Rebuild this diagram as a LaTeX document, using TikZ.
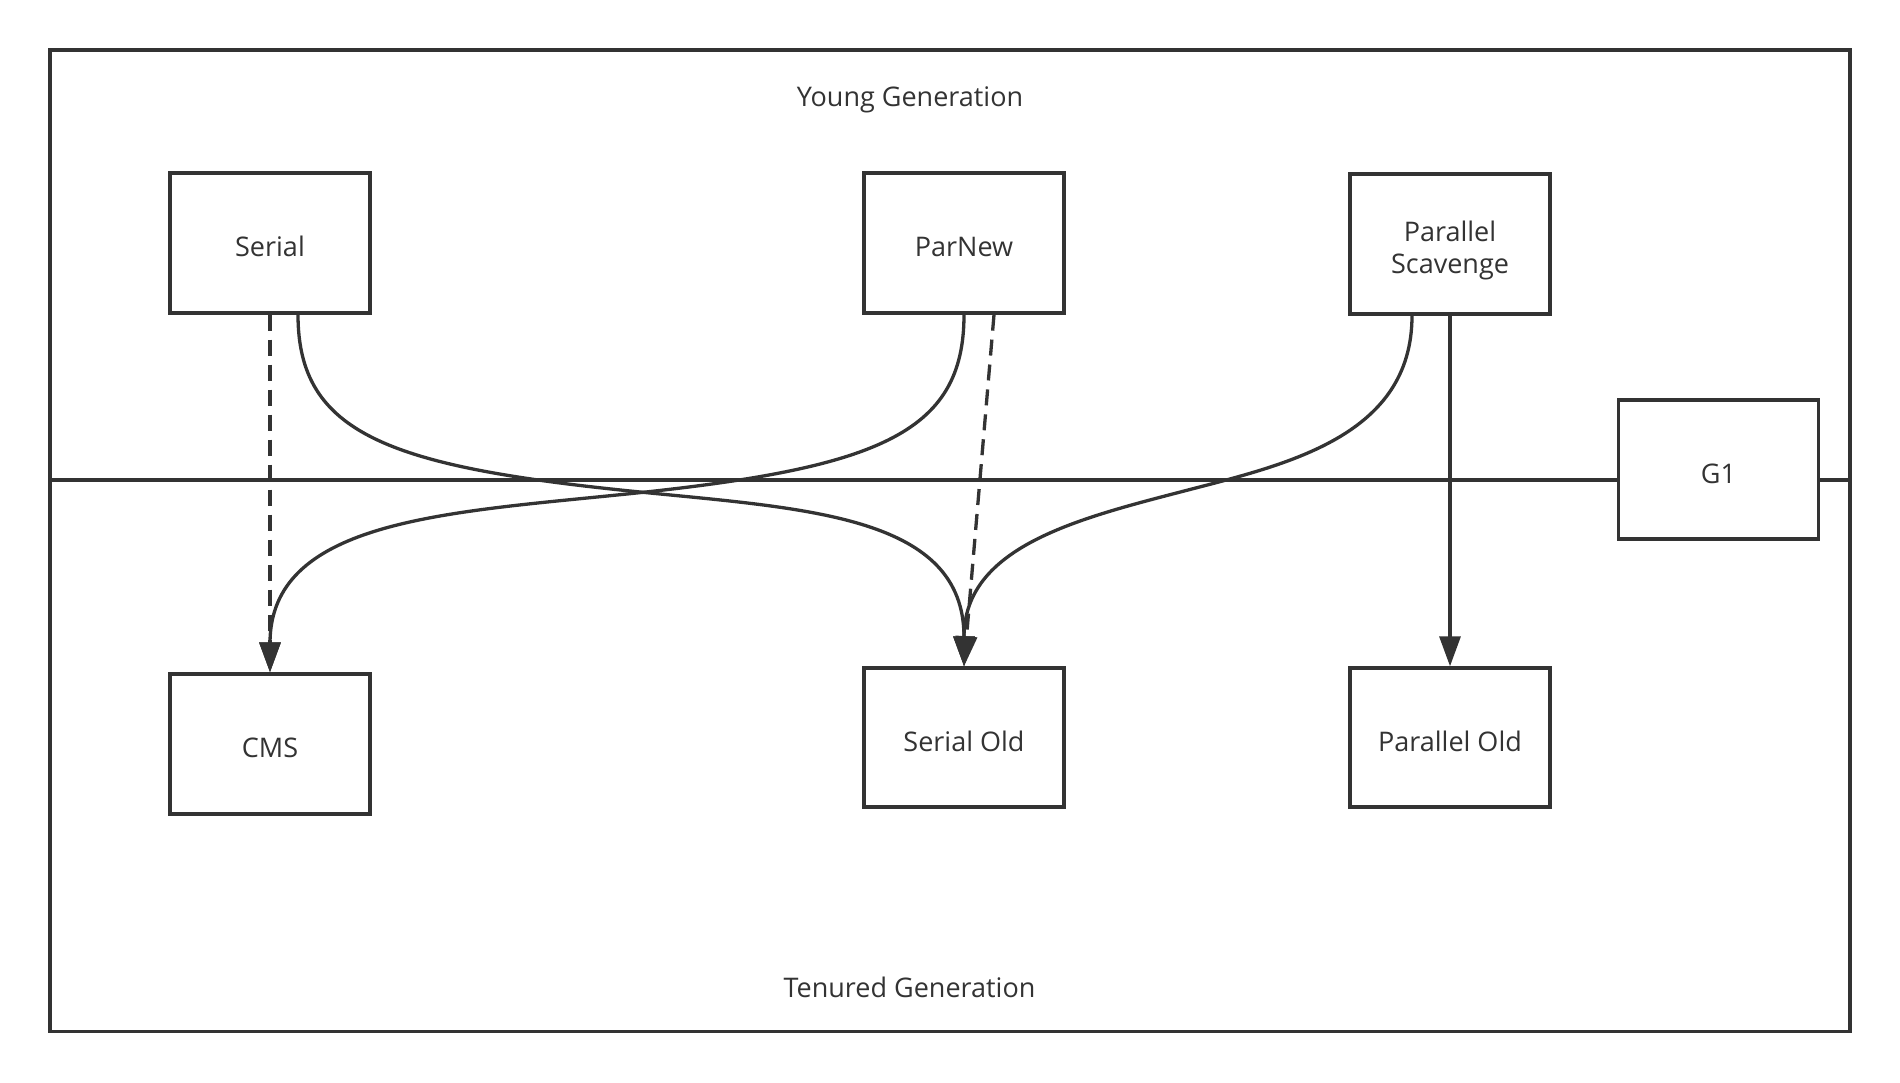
\documentclass[tikz,border=0pt]{standalone}
\usepackage{fontspec}
\setmainfont{Open Sans}
\usetikzlibrary{arrows.meta}
\definecolor{ink}{HTML}{333333}
\newcommand\gfont{\fontsize{27pt}{32.3pt}\selectfont}
\begin{document}
\begin{tikzpicture}[x=1pt,y=-1pt,
  box/.style={draw=ink, line width=3.4pt, fill=white, minimum width=200pt,
    minimum height=140pt, inner sep=0pt, text=ink, font=\gfont,
    text height=27pt, text depth=0pt},
  lbl/.style={text=ink, font=\gfont, inner sep=0pt},
  frame/.style={draw=ink, line width=3.4pt},
  conn/.style={draw=ink, line width=3.3pt, -{Triangle[length=30pt,width=21pt]}},
  dconn/.style={conn, dash pattern=on 16pt off 9pt}]
\useasboundingbox (0,0) rectangle (1900,1082);
% outer frame
\node[frame, minimum width=1800pt, minimum height=981.5pt, inner sep=0pt] (outer) at (950,540.75) {};
\coordinate (hl) at (50,480);
\coordinate (hr) at (1850,480);
% boxes
\node[box] (serial) at (270,243) {Serial};
\node[box] (parnew) at (964,243) {ParNew};
\node[box] (ps) at (1450,244) {};
\node[lbl, align=center] (pslabel) at ([yshift=-6.5pt]ps.center) {Parallel\\Scavenge};
\node[box, minimum height=139pt] (g1) at (1718.5,469.5) {G1};
\node[box] (cms) at (270,744) {CMS};
\node[box, minimum height=139pt] (serialold) at (964,737.5) {Serial Old};
\node[box, minimum height=139pt] (parold) at (1450,737.5) {Parallel Old};
% separator line
\draw[frame] (hl) -- (g1.west |- hl);
\draw[frame] (g1.east |- hl) -- (hr);
% titles
\node[lbl, anchor=base] (young) at (910,106.5) {Young Generation};
\node[lbl, anchor=base] (tenured) at (909.5,997) {Tenured Generation};
% waypoints
\coordinate (m1) at (640,492);
\coordinate (m2) at (617,495);
\coordinate (m3) at (1188,490);
% connectors
\draw[dconn] (serial.south) -- (cms.north);
\draw[conn] ([xshift=28pt]serial.south) .. controls +(0,120) and (390,467) .. (m1)
  .. controls (810,509) and +(0,-150) .. (serialold.north);
\draw[conn] (parnew.south) .. controls +(0,120) and (877,469) .. (m2)
  .. controls (440,513) and +(0,-150) .. (cms.north);
\draw[dconn] ([xshift=30pt]parnew.south) -- (serialold.north);
\draw[conn] ([xshift=-38pt]ps.south) .. controls +(0,120) and (1288,464) .. (m3)
  .. controls (1078,518.6) and +(0,-120) .. (serialold.north);
\draw[conn] (ps.south) -- (parold.north);
\end{tikzpicture}
\end{document}
